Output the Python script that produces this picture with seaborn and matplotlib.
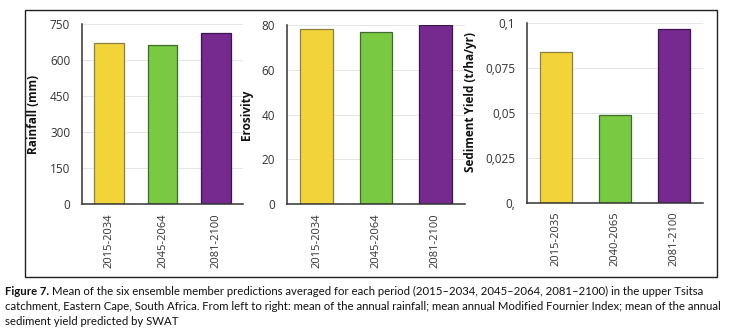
import pandas as pd
import seaborn as sns
import matplotlib

matplotlib.use('Agg')
import matplotlib.pyplot as plt
from matplotlib.patches import Rectangle

# data
periods_a = ['2015-2034', '2045-2064', '2081-2100']
periods_b = ['2015-2035', '2040-2065', '2081-2100']
rainfall = [670, 661, 711]
erosivity = [78.0, 76.7, 79.9]
sediment = [0.0842, 0.0487, 0.0966]

rain_ticks = [0, 150, 300, 450, 600, 750]
eros_ticks = [0, 20, 40, 60, 80]
sed_ticks = [0, 0.025, 0.05, 0.075, 0.1]
sed_labels = ['0,', '0,025', '0,05', '0,075', '0,1']

colors = ['#F2D43A', '#7AC943', '#76298E']
edges = ['#8C8040', '#3C6B2A', '#3E1450']

caption = [
    ('Figure 7.', 'Mean of the six ensemble member predictions averaged for each period '
     '(2015\u20132034, 2045\u20132064, 2081\u20132100) in the upper Tsitsa'),
    ('', 'catchment, Eastern Cape, South Africa. From left to right: mean of the annual '
     'rainfall; mean annual Modified Fournier Index; mean of the annual'),
    ('', 'sediment yield predicted by SWAT'),
]

sns.set_style('white')
plt.rcParams['font.family'] = ['Open Sans', 'DejaVu Sans']

W, H = 744, 330
fig = plt.figure(figsize=(W / 100, H / 100), dpi=100)

# frame round the panels
fig.patches.append(Rectangle((0.0336, 0.1606), 0.9301, 0.8106, transform=fig.transFigure,
                             fill=False, edgecolor='#222222', linewidth=1.0))

ax1 = fig.add_axes([0.1102, 0.3818, 0.2164, 0.5455])
ax2 = fig.add_axes([0.3858, 0.3818, 0.2392, 0.5424])
ax3 = fig.add_axes([0.7083, 0.3858, 0.2366, 0.5436])

panels = [
    (ax1, periods_a, rainfall, 'Rainfall (mm)', rain_ticks, None, -0.261, 0.5),
    (ax2, periods_a, erosivity, 'Erosivity', eros_ticks, None, -0.191, 0.5),
    (ax3, periods_b, sediment, 'Sediment Yield (t/ha/yr)', sed_ticks, sed_labels, -0.284, 0.56),
]

for ax, cats, vals, label, ticks, tlabels, lx, ly in panels:
    df = pd.DataFrame({'period': cats, 'value': vals})
    sns.barplot(data=df, x='period', y='value', hue='period', palette=colors,
                width=0.55, legend=False, ax=ax, saturation=1)
    for patch, ec in zip(ax.patches, edges):
        patch.set_edgecolor(ec)
        patch.set_linewidth(0.9)
    ax.set_ylim(ticks[0], ticks[-1])
    ax.set_xlim(-0.5, 2.5)
    if tlabels is None:
        ax.set_yticks(ticks)
    else:
        ax.set_yticks(ticks, tlabels)
    ax.yaxis.grid(True, color='#e2e2e2', linewidth=0.6)
    ax.set_axisbelow(True)
    ax.set_xlabel('')
    ax.set_ylabel(label, fontsize=8.5, fontweight='bold', color='#111111')
    ax.yaxis.set_label_coords(lx, ly)
    ax.tick_params(axis='y', length=0, pad=8.5, labelsize=8.5, labelcolor='#333333')
    ax.tick_params(axis='x', length=0, pad=6.5, labelsize=8, labelcolor='#333333',
                   labelrotation=90)
    sns.despine(ax=ax)
    for s in ['left', 'bottom']:
        ax.spines[s].set_color('#333333')
        ax.spines[s].set_linewidth(1.1)

# caption
cap_font = 'Lato'
renderer = fig.canvas.get_renderer()
left_px, right_px = 5, 741
line_y = [295, 310, 325]


def text_px(s, size, wt='normal'):
    t = fig.text(0, 0, s, fontsize=size, fontweight=wt, family=cap_font)
    w = t.get_window_extent(renderer=renderer).width
    t.remove()
    return w


def bold_px(bold_part, size):
    return text_px(bold_part + ' x', size, 'bold') - text_px('x', size)


base = 10.0
need = max(text_px(r, base) + (bold_px(b, base) if b else 0) for b, r in caption[:2])
# measured widths run a little short of the drawn ones, so leave some slack
size = min(0.975 * base * (right_px - left_px) / need, 9.6)

for i, (bold_part, rest) in enumerate(caption):
    x = left_px
    if bold_part:
        fig.text(x / W, 1 - line_y[i] / H, bold_part, fontsize=size, fontweight='bold',
                 family=cap_font, va='baseline', ha='left', color='#111111')
        x += bold_px(bold_part, size)
    fig.text(x / W, 1 - line_y[i] / H, rest, fontsize=size, family=cap_font,
             va='baseline', ha='left', color='#111111')

fig.savefig('out.png', dpi=100, facecolor='white')
